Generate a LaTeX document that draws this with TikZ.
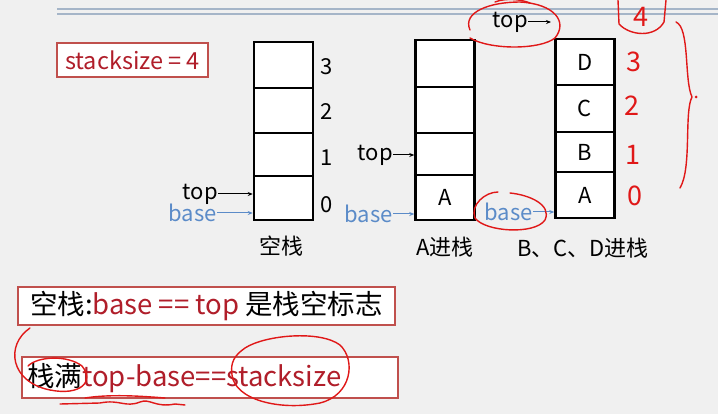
\documentclass[tikz,border=0pt]{standalone}
\usepackage{fontspec}
\setmainfont{Noto Sans CJK SC}
\usetikzlibrary{arrows.meta}
\definecolor{bg}{HTML}{F0F0F0}
\definecolor{boxred}{HTML}{C0504D}
\definecolor{txtred}{HTML}{B01E2A}
\definecolor{baseblue}{HTML}{5B8BC8}
\definecolor{linegray}{HTML}{A5B5C8}
\definecolor{pen}{HTML}{E01818}
\tikzset{
  cell/.style={draw=black, line width=2.5pt, fill=white, minimum width=59pt, inner sep=0pt, font=\fontsize{22}{22}\selectfont},
  lab/.style={inner sep=0pt, font=\fontsize{22}{22}\selectfont},
  ptr/.style={inner sep=0pt, font=\fontsize{22}{22}\selectfont},
  arr/.style={-{Stealth[length=5pt,width=4pt]}, line width=1pt},
  redbox/.style={draw=boxred, line width=1.2pt, fill=white, inner sep=0pt},
  penline/.style={pen, line width=1.4pt, line cap=round, line join=round},
  digit/.style={pen, inner sep=0pt, font=\fontsize{27}{27}\selectfont}
}
\begin{document}
\begin{tikzpicture}[x=1pt,y=-1pt]
\fill[bg] (0,0) rectangle (718,414);
\useasboundingbox (0,0) rectangle (718,414);
% header lines
\draw[linegray, line width=1.3pt] (57,9) -- (718,9);
\draw[linegray, line width=1.3pt] (57,14) -- (718,14);
% stacksize box
\node[redbox, minimum width=151pt, minimum height=34pt] (ss) at (132.5,60) {};
\node[txtred, inner sep=0pt, font=\fontsize{23.5}{23.5}\selectfont] (sst) at (ss.center) {stacksize = 4};
% stack 1
\node[cell, minimum height=46pt] (a3) at (283.5,65) {};
\node[cell, minimum height=45pt] (a2) at (283.5,110.5) {};
\node[cell, minimum height=43pt] (a1) at (283.5,154.5) {};
\node[cell, minimum height=44pt] (a0) at (283.5,198) {};
\node[lab] (n3) at (327,67) {3};
\node[lab] (n2) at (327,112) {2};
\node[lab] (n1) at (327,158) {1};
\node[lab] (n0) at (327,205) {0};
\node[ptr, anchor=east] (t1) at (218,194) {top};
\node[ptr, anchor=east, baseblue] (b1) at (217,213) {base};
\draw[arr] (t1.east) -- (t1.east -| a0.west);
\draw[arr, baseblue] (b1.east) -- (b1.east -| a0.west);
\node[lab] (l1) at (281,246) {空栈};
% stack 2
\node[cell, minimum height=47pt] (b3) at (445,63.5) {};
\node[cell, minimum height=46pt] (b2) at (445,110) {};
\node[cell, minimum height=42pt] (b1c) at (445,154) {};
\node[cell, minimum height=45pt] (b0) at (445,197.5) {A};
\node[ptr, anchor=east] (t2) at (393,155) {top};
\node[ptr, anchor=east, baseblue] (b2p) at (393,214) {base};
\draw[arr] (t2.east) -- (t2.east -| b1c.west);
\draw[arr, baseblue] (b2p.east) -- (b2p.east -| b0.west);
\node[lab] (l2) at (445,247) {A进栈};
% stack 3
\node[cell, minimum height=46pt] (c3) at (585,62) {D};
\node[cell, minimum height=47pt] (c2) at (585,108.5) {C};
\node[cell, minimum height=40pt] (c1) at (585,152) {B};
\node[cell, minimum height=46pt] (c0) at (585,195) {A};
\node[ptr, anchor=east] (t3) at (528,22) {top};
\coordinate (t3end) at (551,22);
\draw[arr] (t3.east) -- (t3end);
\node[ptr, anchor=east, baseblue] (b3p) at (533,212) {base};
\draw[arr, baseblue] (b3p.east) -- (b3p.east -| c0.west);
\node[lab] (l3) at (583,248) {B、C、D进栈};
% bottom boxes
\node[redbox, minimum width=377pt, minimum height=38pt] (bx1) at (206.5,306) {};
\node[inner sep=0pt, font=\fontsize{27.5}{27.5}\selectfont] (bt1) at (bx1.center) {空栈:\textcolor{txtred}{base == top} 是栈空标志};
\node[redbox, minimum width=376pt, minimum height=41pt] (bx2) at (210,377.5) {};
\node[inner sep=0pt, anchor=west, font=\fontsize{27.5}{27.5}\selectfont] (bt2) at (27,378) {栈满\textcolor{txtred}{top-base==stacksize}};
% handwritten annotations
\draw[penline] (470,30) .. controls (462,12) and (490,2) .. (520,2) .. controls (555,4) and (568,22) .. (555,38) .. controls (540,50) and (490,50) .. (470,38);
\draw[penline] (495,2) .. controls (505,-2) and (520,-1) .. (530,3);
\draw[penline] (510,193) .. controls (530,195) and (552,205) .. (545,220) .. controls (535,235) and (485,232) .. (475,218) .. controls (470,205) and (485,192) .. (498,192);
\node[digit] (h4) at (641,17) {4};
\draw[penline] (618,0) -- (619,24) .. controls (630,36) and (655,38) .. (664,22) -- (666,0);
\node[digit] (h3) at (634,62) {3};
\node[digit] (h2) at (632,106) {2};
\node[digit] (h1) at (633,155) {1};
\node[digit] (h0) at (635,196) {0};
\draw[penline] (676,22) .. controls (690,28) and (684,80) .. (692,97) .. controls (684,112) and (692,168) .. (680,188);
\fill[pen] (696,97) circle (1.5pt);
\draw[penline] (30,328) .. controls (5,345) and (10,382) .. (50,390) .. controls (80,396) and (95,382) .. (82,366) .. controls (68,355) and (38,356) .. (28,366);
\draw[penline] (245,348) .. controls (265,335) and (320,330) .. (340,345) .. controls (356,360) and (352,395) .. (320,403) .. controls (280,411) and (235,400) .. (232,375) .. controls (230,362) and (235,355) .. (245,348);
\draw[penline] (60,404) -- (100,403) .. controls (120,399) and (125,408) .. (140,402) .. controls (150,398) and (155,408) .. (175,404) -- (185,405);
\draw[penline] (85,398) .. controls (110,394) and (140,396) .. (165,398);
\end{tikzpicture}
\end{document}
